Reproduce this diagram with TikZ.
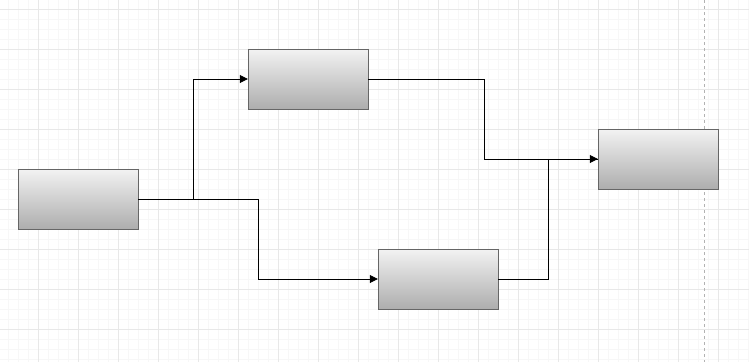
\documentclass[tikz,border=0pt]{standalone}
\usepackage{tikz}
\usetikzlibrary{arrows.meta}

\definecolor{minorgrid}{HTML}{F7F7F7}
\definecolor{majorgrid}{HTML}{E8E8E8}
\definecolor{boxline}{HTML}{666666}

\tikzset{
  block/.style={draw=boxline, top color=black!5, bottom color=black!32,
    minimum width=120pt, minimum height=60pt, inner sep=0pt},
  link/.style={thick, -{Triangle[length=8pt,width=8pt]}}
}

\begin{document}
\begin{tikzpicture}[x=1pt, y=-1pt]
\useasboundingbox (0,0) rectangle (749,362);
\fill[white] (0,0) rectangle (749,362);
% grid
\foreach \x in {8,18,...,748} \draw[minorgrid, line width=0.6pt] (\x,0) -- (\x,362);
\foreach \y in {9,19,...,361} \draw[minorgrid, line width=0.6pt] (0,\y) -- (749,\y);
\foreach \x in {38,78,...,748} \draw[majorgrid, line width=0.6pt] (\x,0) -- (\x,362);
\foreach \y in {9,49,...,361} \draw[majorgrid, line width=0.6pt] (0,\y) -- (749,\y);
\draw[gray!60, dashed, line width=0.6pt] (704,0) -- (704,362);

% boxes
\node[block] (src) at (78,199) {};
\node[block] (up) at (308,79) {};
\node[block] (low) at (438,279) {};
\node[block] (dst) at (658,159) {};

% connectors
\draw[link] (src.east) -- ++(55,0) |- (up.west);
\draw[link] (src.east) -- ++(120,0) |- (low.west);
\draw[link] (up.east) -- ++(116,0) |- (dst.west);
\draw[thick] (low.east) -- ++(50,0) |- (dst.west);
\end{tikzpicture}
\end{document}
